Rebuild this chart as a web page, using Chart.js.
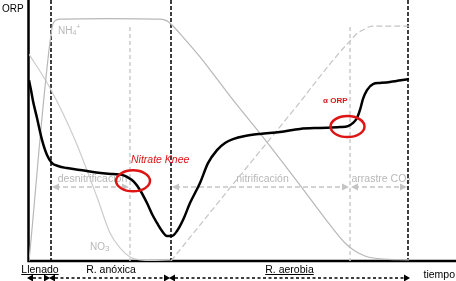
<!DOCTYPE html>
<html>
<head>
<meta charset="utf-8">
<script src="https://cdn.jsdelivr.net/npm/chart.js@4.4.0/dist/chart.umd.min.js"></script>
<style>
  html, body { margin: 0; padding: 0; background: #fff; }
</style>
</head>
<body>
<canvas id="chart" width="456" height="281"></canvas>
<script>
// time in arbitrary units, signal level 0-100 (no numeric axes in the figure)
const orpTime = [0, 2, 4, 8, 13, 18, 23, 29, 38, 51, 64, 84, 93, 98, 105, 111, 118, 123, 128, 133,
  138, 143, 148, 154, 161, 171, 179, 188, 196, 204, 216, 231, 251, 271, 291, 311, 319, 324, 328, 331,
  334, 338, 344, 351, 361, 380];
const orpLevel = [69.3, 65.5, 61.3, 54.8, 46.4, 40.6, 37.5, 36.4, 35.6, 34.9, 34.1, 33.3, 33.0, 32.2, 30.3, 27.2, 22.2, 18.0, 14.6, 11.5,
  9.6, 9.6, 11.5, 15.7, 22.2, 29.9, 37.5, 42.5, 45.2, 46.7, 47.9, 48.7, 49.4, 50.6, 51.0, 51.3, 51.7, 52.9, 54.8, 57.9,
  62.1, 65.5, 67.8, 68.2, 68.6, 69.7];

const nh4Time = [0, 23, 26, 31, 80, 131, 138, 143, 154, 171, 204, 234, 271, 301, 316, 326, 336, 351, 380];
const nh4Level = [0, 89.3, 92.0, 92.7, 92.9, 92.7, 92.0, 90.4, 85.8, 78.2, 61.7, 47.5, 29.1, 13.8, 6.9, 3.8, 1.9, 0.8, 0.4];

const no3DenTime = [0, 21, 46, 68, 81, 91, 101, 111, 142];
const no3DenLevel = [79.3, 66.3, 46.4, 24.5, 10.7, 5.0, 1.5, 0.4, 0];

const no3NitTime = [142, 201, 271, 301, 319, 329, 336, 343, 380];
const no3NitLevel = [0, 28.0, 60.9, 75.5, 83.5, 87.4, 88.9, 90.0, 90.0];

// phases along the time axis
const phaseEdges = [0, 22, 142, 379];
const phaseLabels = ['Llenado', 'R. anóxica', 'R. aerobia'];

// processes (gray arrows)
const processEdges = [[22, 101], [142, 321], [321, 379]];
const processLabels = ['desnitrificación', 'nitrificación', 'arrastre CO2'];
const processLevel = 28.4;
const processMarks = [101, 321];
const processMarkTop = 89.7;

// knees
const kneeTime = [104, 318.5];
const kneeLevel = [30.7, 51.5];

const pts = (xs, ys) => xs.map((t, i) => ({ x: t, y: ys[i] }));

const FONT = '"Liberation Sans", Arial, sans-serif';
const GRAY = '#c4c4c4';
const RED = '#dd1515';

const arrowHead = (ctx, x, y, dir, len, half, color) => {
  ctx.save();
  ctx.fillStyle = color;
  ctx.beginPath();
  ctx.moveTo(x, y);
  ctx.lineTo(x - dir * len, y - half);
  ctx.lineTo(x - dir * len, y + half);
  ctx.closePath();
  ctx.fill();
  ctx.restore();
};

const dashLine = (ctx, x1, y1, x2, y2, color, width, dash) => {
  ctx.save();
  ctx.strokeStyle = color;
  ctx.lineWidth = width;
  ctx.setLineDash(dash);
  ctx.beginPath();
  ctx.moveTo(x1, y1);
  ctx.lineTo(x2, y2);
  ctx.stroke();
  ctx.restore();
};

// parts: [text, size, dy]
const richText = (ctx, parts, x, y, align, color, style) => {
  ctx.save();
  ctx.fillStyle = color;
  ctx.textBaseline = 'middle';
  ctx.textAlign = 'left';
  let total = 0;
  parts.forEach(([s, size]) => {
    ctx.font = `${style || ''} ${size}px ${FONT}`;
    total += ctx.measureText(s).width;
  });
  let cx = align === 'center' ? x - total / 2 : align === 'right' ? x - total : x;
  parts.forEach(([s, size, dy]) => {
    ctx.font = `${style || ''} ${size}px ${FONT}`;
    ctx.fillText(s, cx, y + (dy || 0));
    cx += ctx.measureText(s).width;
  });
  ctx.restore();
  return total;
};

const annotate = {
  id: 'annotate',
  beforeDatasetsDraw: (chart) => {
    const { ctx, chartArea, scales: { x, y } } = chart;
    // axes
    ctx.save();
    ctx.strokeStyle = '#000';
    ctx.lineWidth = 2.5;
    ctx.beginPath();
    ctx.moveTo(chartArea.left - 0.5, 0);
    ctx.lineTo(chartArea.left - 0.5, chartArea.bottom);
    ctx.lineTo(chart.width, chartArea.bottom);
    ctx.stroke();
    ctx.restore();

    // gray process arrows
    const ay = y.getPixelForValue(processLevel);
    processEdges.forEach(([a, b], i) => {
      const xa = x.getPixelForValue(a);
      const xb = x.getPixelForValue(b);
      dashLine(ctx, xa + 4, ay, xb - 4, ay, GRAY, 1.5, [5, 3]);
      arrowHead(ctx, xa + 1, ay, -1, 7, 3.5, GRAY);
      arrowHead(ctx, xb - 1, ay, 1, 7, 3.5, GRAY);
      const mid = (xa + xb) / 2 + 2;
      if (processLabels[i] === 'arrastre CO2') {
        richText(ctx, [['arrastre CO', 10.5, 0], ['2', 7.5, 2.5]], mid, ay - 8, 'center', '#b8b8b8');
      } else {
        richText(ctx, [[processLabels[i], 10.5, 0]], mid, ay - 8, 'center', '#b8b8b8');
      }
    });

    // species labels
    richText(ctx, [['NH', 10, 0], ['4', 7, 2], ['+', 7, -4]], x.getPixelForValue(29), y.getPixelForValue(88), 'left', '#b8b8b8');
    richText(ctx, [['NO', 10, 0], ['3', 8, 1.5]], x.getPixelForValue(61), y.getPixelForValue(5.4), 'left', '#b8b8b8');
  },
  afterDatasetsDraw: (chart) => {
    const { ctx, chartArea, scales: { x, y } } = chart;

    // knee ellipses
    kneeTime.forEach((t, i) => {
      const cx = x.getPixelForValue(t);
      const cy = y.getPixelForValue(kneeLevel[i]);
      ctx.save();
      ctx.strokeStyle = RED;
      ctx.lineWidth = 2.5;
      ctx.beginPath();
      ctx.ellipse(cx, cy, 17, 10.5, 0, 0, Math.PI * 2);
      ctx.stroke();
      ctx.restore();
      if (i === 0) {
        richText(ctx, [['Nitrate Knee', 10.5, 0]], cx - 2, cy - 21, 'left', RED, 'italic');
      } else {
        richText(ctx, [['α ORP', 8, 0]], cx, cy - 26, 'right', RED, 'bold');
      }
    });

    // texts
    richText(ctx, [['ORP', 10, 0]], 2, 9, 'left', '#000');
    richText(ctx, [['tiempo', 10.5, 0]], chart.width - 1, chartArea.bottom + 14, 'right', '#000');

    // phase timeline below the axis
    const ty = chartArea.bottom + 17;
    const ly = chartArea.bottom + 9;
    for (let i = 0; i < phaseLabels.length; i++) {
      const xa = x.getPixelForValue(phaseEdges[i]);
      const xb = x.getPixelForValue(phaseEdges[i + 1]);
      dashLine(ctx, xa + 4, ty, xb - 4, ty, '#000', 1.3, [3, 2.5]);
      arrowHead(ctx, xa - 2, ty, -1, 6, 3.5, '#000');
      arrowHead(ctx, xb + (i === phaseLabels.length - 1 ? 2 : -1), ty, 1, 6, 3.5, '#000');
      const w = richText(ctx, [[phaseLabels[i], 10.5, 0]], (xa + xb) / 2, ly, 'center', '#000');
      if (i !== 1) {
        ctx.save();
        ctx.fillStyle = '#000';
        ctx.fillRect((xa + xb) / 2 - w / 2, ly + 4, w, 1);
        ctx.restore();
      }
    }
  }
};

const verticals = [];
phaseEdges.slice(1).forEach((t) => {
  verticals.push({
    data: pts([t, t], [100, 0]),
    borderColor: '#000',
    borderWidth: 1.5,
    borderDash: [4, 2],
    tension: 0,
    order: 3
  });
});
processMarks.forEach((t) => {
  verticals.push({
    data: pts([t, t], [processMarkTop, 0]),
    borderColor: '#cccccc',
    borderWidth: 1.5,
    borderDash: [4, 3],
    tension: 0,
    order: 4
  });
});

new Chart(document.getElementById('chart'), {
  type: 'line',
  data: {
    datasets: [
      {
        label: 'ORP',
        data: pts(orpTime, orpLevel),
        borderColor: '#000',
        borderWidth: 2.5,
        cubicInterpolationMode: 'monotone',
        order: 0
      },
      {
        label: 'NH4+',
        data: pts(nh4Time, nh4Level),
        borderColor: '#b8b8b8',
        borderWidth: 1.2,
        cubicInterpolationMode: 'monotone',
        order: 2
      },
      {
        label: 'NO3- desnitrificación',
        data: pts(no3DenTime, no3DenLevel),
        borderColor: '#cccccc',
        borderWidth: 1.2,
        cubicInterpolationMode: 'monotone',
        order: 2
      },
      {
        label: 'NO3- nitrificación',
        data: pts(no3NitTime, no3NitLevel),
        borderColor: '#c4c4c4',
        borderWidth: 1.2,
        borderDash: [6, 3],
        cubicInterpolationMode: 'monotone',
        order: 2
      },
      ...verticals
    ]
  },
  options: {
    responsive: false,
    animation: false,
    layout: { padding: { left: 29, right: 0, top: 0, bottom: 20 } },
    elements: { point: { radius: 0 } },
    scales: {
      x: { type: 'linear', min: 0, max: 427, display: false },
      y: { min: 0, max: 100, display: false }
    },
    plugins: {
      legend: { display: false },
      tooltip: { enabled: false }
    }
  },
  plugins: [annotate]
});
</script>
</body>
</html>
